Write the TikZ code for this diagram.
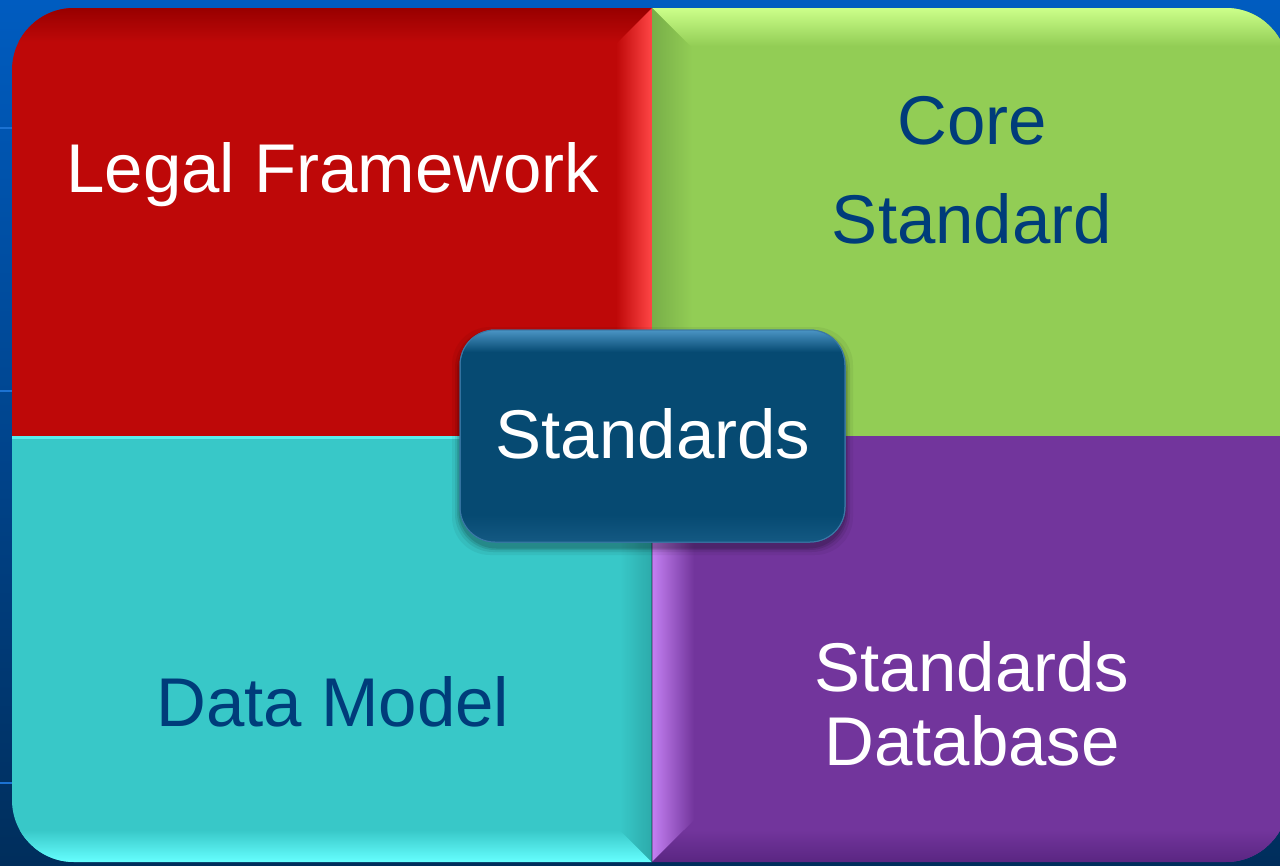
\documentclass[tikz,border=0pt]{standalone}
\usepackage{fontspec}
\setmainfont{Liberation Sans}
\definecolor{bgtop}{HTML}{005CC0}
\definecolor{bgbot}{HTML}{002E5C}
\definecolor{bgline}{HTML}{1C72D2}
\definecolor{qred}{HTML}{BE0808}
\definecolor{qreddark}{HTML}{980000}
\definecolor{qredlight}{HTML}{FF4646}
\definecolor{qgreen}{HTML}{92CD55}
\definecolor{qgreenlight}{HTML}{CCFF8A}
\definecolor{qgreendark}{HTML}{78AE48}
\definecolor{qteal}{HTML}{38C8C8}
\definecolor{qteallight}{HTML}{66FFFF}
\definecolor{qtealdark}{HTML}{2CAAAA}
\definecolor{qpurple}{HTML}{72359C}
\definecolor{qpurplelight}{HTML}{C480F2}
\definecolor{qpurpledark}{HTML}{5A2682}
\definecolor{boxfill}{HTML}{064A72}
\definecolor{boxlight}{HTML}{4A94C4}
\definecolor{boxedge}{HTML}{3A78A6}
\definecolor{navytext}{HTML}{003C7A}
\tikzset{
  lbl/.style={inner sep=0pt, anchor=base, font=\fontsize{69}{75}\selectfont},
  whitelbl/.style={lbl, text=white},
  navylbl/.style={lbl, text=navytext},
}
\begin{document}
\begin{tikzpicture}[x=1pt,y=-1pt]
\useasboundingbox (0,0) rectangle (1280,865);
% background
\shade[top color=bgtop, bottom color=bgbot] (0,0) rectangle (1280,865);
\foreach \yy in {127,390,782} \fill[bgline] (0,\yy) rectangle (12,\yy+2);
% quadrants
\begin{scope}
\clip[rounded corners=62pt] (12,8) rectangle (1288,862);
% red
\fill[qred] (12,8) rectangle (652,436);
\begin{scope}
\clip (12,8) -- (652,8) -- (618,42) -- (12,42) -- cycle;
\shade[top color=qreddark, bottom color=qred] (12,8) rectangle (652,42);
\end{scope}
\begin{scope}
\clip (652,8) -- (616,44) -- (616,436) -- (652,436) -- cycle;
\shade[left color=qred, right color=qredlight] (616,8) rectangle (652,436);
\end{scope}
% green
\fill[qgreen] (652,8) rectangle (1288,436);
\begin{scope}
\clip (652,8) -- (1288,8) -- (1288,46) -- (690,46) -- cycle;
\shade[top color=qgreenlight, bottom color=qgreen] (652,8) rectangle (1288,46);
\end{scope}
\begin{scope}
\clip (652,8) -- (692,48) -- (692,436) -- (652,436) -- cycle;
\shade[left color=qgreendark, right color=qgreen] (652,8) rectangle (692,436);
\end{scope}
% teal
\fill[qteal] (12,436) rectangle (652,862);
\begin{scope}
\clip (12,862) -- (652,862) -- (620,830) -- (12,830) -- cycle;
\shade[top color=qteal, bottom color=qteallight] (12,830) rectangle (652,862);
\end{scope}
\begin{scope}
\clip (652,862) -- (620,830) -- (620,436) -- (652,436) -- cycle;
\shade[left color=qteal, right color=qtealdark] (620,436) rectangle (652,862);
\end{scope}
\fill[qteallight!70!qteal] (12,436) rectangle (652,438.5);
% purple
\fill[qpurple] (652,436) rectangle (1288,862);
\begin{scope}
\clip (652,436) -- (694,436) -- (694,820) -- (652,862) -- cycle;
\shade[left color=qpurplelight, right color=qpurple] (652,436) rectangle (694,862);
\end{scope}
\begin{scope}
\clip (652,862) -- (684,830) -- (1288,830) -- (1288,862) -- cycle;
\shade[top color=qpurple, bottom color=qpurpledark] (652,830) rectangle (1288,862);
\end{scope}
\fill[black, opacity=0.25] (651,436) rectangle (653,862);
\end{scope}
% central box shadow
\foreach \d/\o in {8/0.05,5/0.08,3/0.1,1.5/0.12}
  \fill[black, opacity=\o, rounded corners=38pt] (460-\d,330-\d+5) rectangle (845+\d,542+\d+5);
% central box
\node[fill=boxfill, draw=boxedge, line width=1pt, rounded corners=35pt,
      minimum width=385pt, minimum height=212pt, inner sep=0pt] (center) at (652.5,436) {};
\begin{scope}
\clip[rounded corners=35pt] (460,330) rectangle (845,542);
\shade[top color=boxlight, bottom color=boxfill] (460,330) rectangle (845,352);
\shade[top color=boxfill, bottom color=boxfill!80!boxlight] (460,515) rectangle (845,542);
\end{scope}
\draw[boxedge, line width=1pt, rounded corners=35pt] (460,330) rectangle (845,542);
% texts
\node[whitelbl] (legal) at (333,192) {Legal Framework};
\node[navylbl] (core1) at (972,144) {Core};
\node[navylbl] (core2) at (972,243) {Standard};
\node[navylbl] (data) at (333,726) {Data Model};
\node[whitelbl] (sdb1) at (972,691) {Standards};
\node[whitelbl] (sdb2) at (972,765) {Database};
\node[whitelbl] (stdtext) at (653,458) {Standards};
\end{tikzpicture}
\end{document}
